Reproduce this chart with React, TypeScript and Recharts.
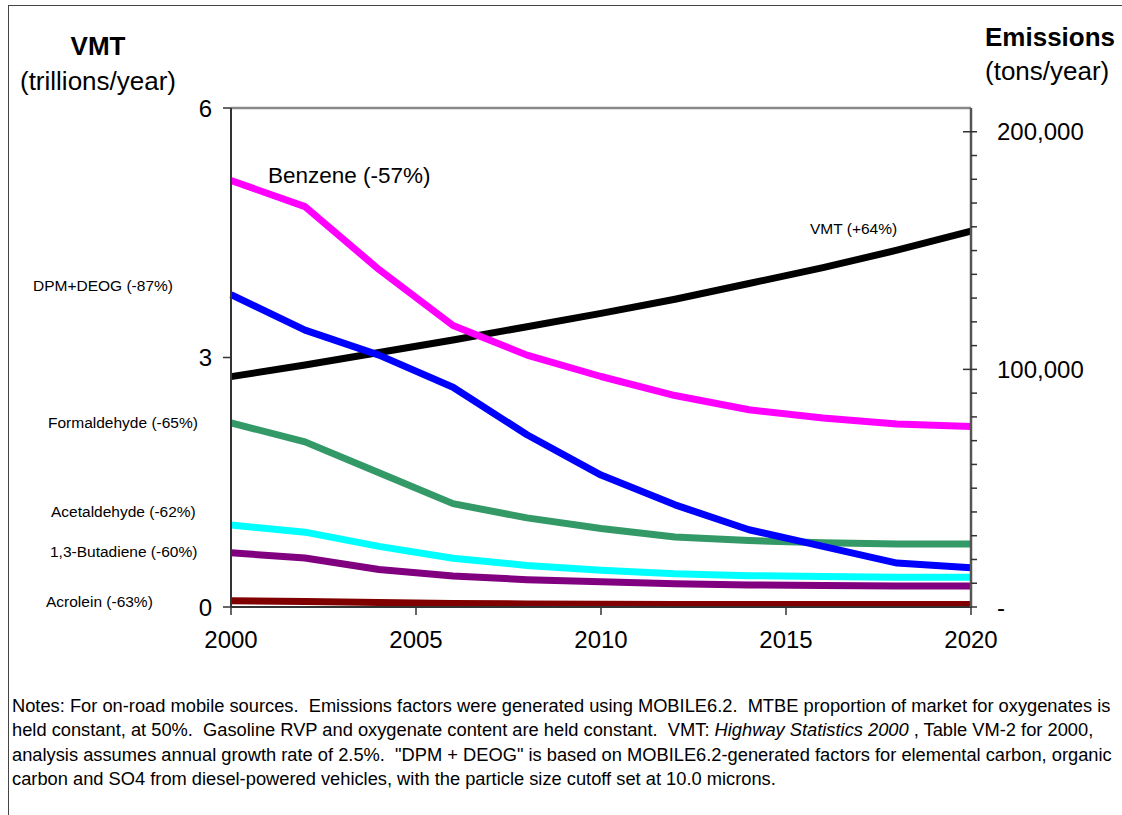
import React from 'react';
import { LineChart, Line, XAxis, YAxis, ReferenceLine } from 'recharts';

const years = [2000, 2002, 2004, 2006, 2008, 2010, 2012, 2014, 2016, 2018, 2020];
const vmt = [2.77, 2.91, 3.06, 3.21, 3.37, 3.53, 3.7, 3.89, 4.08, 4.29, 4.52];
const benzene = [179500, 168500, 142000, 118500, 106000, 97000, 89000, 83000, 79500, 77000, 76000];
const dpmDeog = [131500, 116500, 106000, 92500, 72500, 55500, 43000, 32500, 25500, 18500, 16500];
const formaldehyde = [77500, 69500, 56500, 43500, 37500, 33000, 29500, 28000, 27000, 26500, 26500];
const acetaldehyde = [34500, 31500, 25500, 20500, 17500, 15500, 14000, 13200, 12800, 12500, 12500];
const butadiene = [22800, 20600, 15800, 13000, 11500, 10600, 9800, 9300, 9000, 8800, 8800];
const acrolein = [2600, 2300, 1900, 1500, 1300, 1200, 1100, 1000, 1000, 1000, 1000];

const xTicks = [2000, 2005, 2010, 2015, 2020];
const leftTicks = [0, 3, 6];
const rightTicks = Array.from({ length: 21 }, (_, i) => i * 10000);

const data = years.map((year, i) => ({
  year,
  vmt: vmt[i],
  benzene: benzene[i],
  dpm: dpmDeog[i],
  formaldehyde: formaldehyde[i],
  acetaldehyde: acetaldehyde[i],
  butadiene: butadiene[i],
  acrolein: acrolein[i],
}));

const FONT = 'Arial, "Liberation Sans", sans-serif';

const RightTick = (props: any) => {
  const { x, y, payload } = props;
  const v = payload.value;
  const major = v % 100000 === 0;
  const label = v === 0 ? '-' : major ? v.toLocaleString('en-US') : '';
  return (
    <g>
      <line x1={major && v !== 0 ? x - 8 : x} x2={x + 6} y1={y} y2={y} stroke="#333" strokeWidth={1.5} />
      {label && (
        <text x={x + 26} y={y} dy="0.36em" fontSize={24} fontFamily={FONT} fill="#000">
          {label}
        </text>
      )}
    </g>
  );
};

const Txt = ({ x, y, size, children }: any) => (
  <div
    style={{
      position: 'absolute',
      left: x,
      top: y - 0.488 * size,
      fontSize: size,
      lineHeight: `${size}px`,
      fontFamily: FONT,
      whiteSpace: 'nowrap',
      color: '#000',
    }}
  >
    {children}
  </div>
);

const lineProps = {
  type: 'linear' as const,
  strokeWidth: 7,
  dot: false,
  strokeLinejoin: 'round' as const,
  isAnimationActive: false,
};

export default function App() {
  return (
    <div
      style={{
        position: 'absolute',
        left: 0,
        top: 0,
        width: 1122,
        height: 815,
        overflow: 'hidden',
        background: '#fff',
        fontFamily: FONT,
      }}
    >
      <div
        style={{
          position: 'absolute',
          left: 8,
          top: 5,
          width: 1300,
          height: 1000,
          border: '1.5px solid #444',
        }}
      />

      <LineChart
        width={1122}
        height={700}
        data={data}
        margin={{ top: 108, right: 91, bottom: 0, left: 0 }}
        style={{ position: 'absolute', left: 0, top: 0 }}
      >
        <XAxis
          dataKey="year"
          type="number"
          domain={[2000, 2020]}
          ticks={xTicks}
          height={93}
          tickSize={8}
          tickMargin={16}
          axisLine={{ stroke: '#333', strokeWidth: 2 }}
          tickLine={{ stroke: '#333', strokeWidth: 1.5 }}
          tick={{ fontSize: 24, fill: '#000', fontFamily: FONT }}
        />
        <YAxis
          yAxisId="left"
          domain={[0, 6]}
          ticks={leftTicks}
          width={231}
          tickSize={8}
          tickMargin={11}
          axisLine={{ stroke: '#333', strokeWidth: 2 }}
          tickLine={{ stroke: '#333', strokeWidth: 1.5 }}
          tick={{ fontSize: 24, fill: '#000', fontFamily: FONT }}
        />
        <YAxis
          yAxisId="right"
          orientation="right"
          domain={[0, 210000]}
          ticks={rightTicks}
          interval={0}
          width={60}
          tickSize={0}
          tickMargin={0}
          axisLine={{ stroke: '#555', strokeWidth: 2.5 }}
          tickLine={false}
          tick={<RightTick />}
        />
        <ReferenceLine yAxisId="left" y={6} stroke="#888" strokeWidth={2.5} />

        <Line yAxisId="left" dataKey="vmt" stroke="#000000" {...lineProps} />
        <Line yAxisId="right" dataKey="acrolein" stroke="#800000" {...lineProps} />
        <Line yAxisId="right" dataKey="butadiene" stroke="#800080" {...lineProps} />
        <Line yAxisId="right" dataKey="acetaldehyde" stroke="#00FFFF" {...lineProps} />
        <Line yAxisId="right" dataKey="formaldehyde" stroke="#339966" {...lineProps} />
        <Line yAxisId="right" dataKey="dpm" stroke="#0000FF" {...lineProps} />
        <Line yAxisId="right" dataKey="benzene" stroke="#FF00FF" {...lineProps} />
      </LineChart>

      <div style={{ position: 'absolute', left: 0, width: 196, top: 33, textAlign: 'center', fontSize: 26, lineHeight: '26px', fontWeight: 'bold' }}>
        VMT
      </div>
      <div style={{ position: 'absolute', left: 0, width: 196, top: 68, textAlign: 'center', fontSize: 26, lineHeight: '26px' }}>
        (trillions/year)
      </div>
      <div style={{ position: 'absolute', left: 985, top: 24, fontSize: 26, lineHeight: '26px', fontWeight: 'bold', whiteSpace: 'nowrap' }}>
        Emissions
      </div>
      <div style={{ position: 'absolute', left: 985, top: 58, fontSize: 26, lineHeight: '26px', whiteSpace: 'nowrap' }}>
        (tons/year)
      </div>

      <Txt x={268} y={176} size={22.5}>Benzene (-57%)</Txt>
      <Txt x={810} y={229} size={15.5}>VMT (+64%)</Txt>
      <Txt x={33} y={286} size={15.5}>DPM+DEOG (-87%)</Txt>
      <Txt x={48} y={423} size={15.5}>Formaldehyde (-65%)</Txt>
      <Txt x={51} y={512} size={15.5}>Acetaldehyde (-62%)</Txt>
      <Txt x={50} y={552} size={15.5}>1,3-Butadiene (-60%)</Txt>
      <Txt x={46} y={602} size={15.5}>Acrolein (-63%)</Txt>

      <div
        style={{
          position: 'absolute',
          left: 12,
          top: 694,
          fontSize: 18.3,
          lineHeight: '24.4px',
          whiteSpace: 'pre',
          color: '#000',
        }}
      >
        {'Notes: For on-road mobile sources.  Emissions factors were generated using MOBILE6.2.  MTBE proportion of market for oxygenates is\n'}
        {'held constant, at 50%.  Gasoline RVP and oxygenate content are held constant.  VMT: '}
        <i>Highway Statistics 2000</i>
        {' , Table VM-2 for 2000,\n'}
        {'analysis assumes annual growth rate of 2.5%.  "DPM + DEOG" is based on MOBILE6.2-generated factors for elemental carbon, organic\n'}
        {'carbon and SO4 from diesel-powered vehicles, with the particle size cutoff set at 10.0 microns.'}
      </div>
    </div>
  );
}
